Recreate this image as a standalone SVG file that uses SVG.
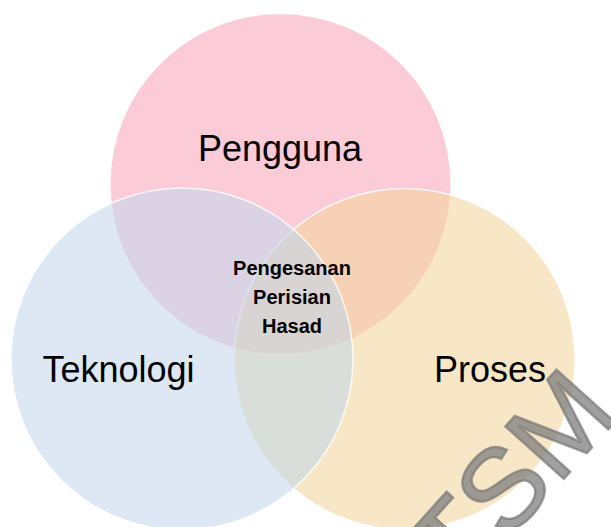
<svg xmlns="http://www.w3.org/2000/svg" width="611" height="527" viewBox="0 0 611 527">
  <style>
    .set { stroke: #ffffff; stroke-width: 1.5; stroke-opacity: 0.8; }
    .big { font-family: "Liberation Sans", Arial, sans-serif; font-size: 36px; fill: #000000; text-anchor: middle; }
    .mid { font-family: "Liberation Sans", Arial, sans-serif; font-size: 20px; font-weight: bold; fill: #000000; text-anchor: middle; }
    .wm { font-family: "Liberation Sans", Arial, sans-serif; font-size: 114px; fill: #7a7a7a; fill-opacity: 0.72; stroke: #7a7a7a; stroke-opacity: 0.72; stroke-width: 2.5; paint-order: stroke; }
  </style>
  <rect width="611" height="527" fill="#ffffff"/>
  <g id="pengguna">
    <circle class="set" cx="280.5" cy="184" r="170.5" fill="#fbccd7"/>
    <text class="big" x="280" y="161">Pengguna</text>
  </g>
  <g id="proses">
    <circle class="set" cx="404.5" cy="359" r="170.5" fill="#f3d59b" fill-opacity="0.57"/>
  </g>
  <g id="teknologi">
    <circle class="set" cx="182" cy="359" r="171" fill="#c3d7ec" fill-opacity="0.57"/>
  </g>
  <g id="labels">
    <text class="big" x="118.5" y="382">Teknologi</text>
    <text class="big" x="490" y="382">Proses</text>
  </g>
  <g id="pengesanan">
    <text class="mid" x="292" y="275">Pengesanan</text>
    <text class="mid" x="292" y="304">Perisian</text>
    <text class="mid" x="292" y="333">Hasad</text>
  </g>
  <g id="connectors"></g>
  <g id="watermark">
    <text class="wm" transform="translate(460 594) rotate(-48)" x="0" y="0">TSM</text>
  </g>
</svg>
